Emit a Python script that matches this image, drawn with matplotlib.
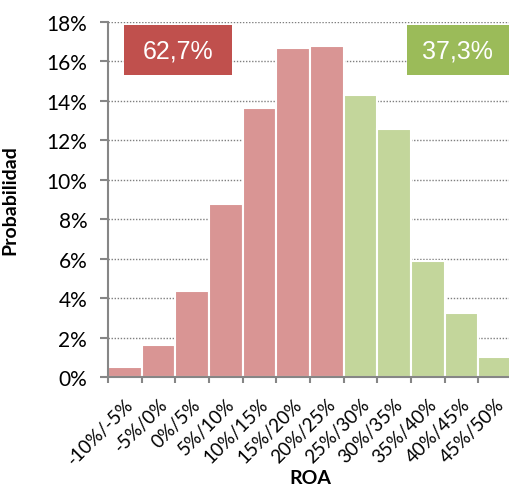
import matplotlib
matplotlib.use('Agg')
import matplotlib.pyplot as plt
from matplotlib.patches import Rectangle
from matplotlib.ticker import FuncFormatter
import numpy as np

bins = ['-10%/-5%', '-5%/0%', '0%/5%', '5%/10%', '10%/15%', '15%/20%',
        '20%/25%', '25%/30%', '30%/35%', '35%/40%', '40%/45%', '45%/50%']
prob = [0.5, 1.62, 4.38, 8.77, 13.66, 16.68, 16.78, 14.28, 12.58, 5.9, 3.23, 1.0]
n_red = 7
share_red = '62,7%'
share_green = '37,3%'

plt.rcParams['font.family'] = ['Lato', 'DejaVu Sans']

fig = plt.figure(figsize=(5.09, 4.89), dpi=100)
ax = fig.add_axes([108/509, 1 - 378/489, 404/509, 355/489])

x = np.arange(len(bins)) + 0.5
colors = ['#D99594'] * n_red + ['#C3D69B'] * (len(bins) - n_red)
ax.bar(x, prob, width=1.0, color=colors, edgecolor='white', linewidth=1.5, zorder=2)

ax.set_xlim(0, len(bins))
ax.set_ylim(0, 18)
ax.set_yticks(np.arange(0, 19, 2))
ax.yaxis.set_major_formatter(FuncFormatter(lambda v, p: '%d%%' % v))
ax.yaxis.grid(True, linestyle=(0, (1, 1.2)), color='#7f7f7f', linewidth=1.0, zorder=0)
ax.set_axisbelow(True)

ax.set_xticks(np.arange(0, len(bins) + 1))
ax.set_xticklabels([])
ax.set_xticks(x, minor=True)
ax.set_xticklabels(bins, minor=True, rotation=45, ha='right', rotation_mode='anchor',
                   fontsize=13.5)
ax.tick_params(axis='x', which='minor', length=0, pad=13)
ax.tick_params(axis='x', which='major', length=4, color='#868686', width=1.5, direction='out')
ax.tick_params(axis='y', length=6, color='#868686', width=1.5, labelsize=15, pad=9)

for s in ['top', 'right']:
    ax.spines[s].set_visible(False)
for s in ['left', 'bottom']:
    ax.spines[s].set_color('#868686')
    ax.spines[s].set_linewidth(1.5)

ax.set_ylabel('Probabilidad', fontsize=14, fontweight='bold')
ax.yaxis.set_label_coords(-0.223, 0.5)
ax.set_xlabel('ROA', fontsize=14, fontweight='bold')
ax.xaxis.set_label_coords(0.5, -0.26)

# share boxes
ax.add_patch(Rectangle((0.0396, 0.851), 0.267, 0.141, transform=ax.transAxes,
                       facecolor='#C0504D', edgecolor='none', zorder=3, clip_on=False))
ax.add_patch(Rectangle((0.740, 0.851), 0.26, 0.141, transform=ax.transAxes,
                       facecolor='#9BBB59', edgecolor='none', zorder=3, clip_on=False))
ax.text(0.173, 0.921, share_red, transform=ax.transAxes, fontsize=18, color='white',
        ha='center', va='center', family='Liberation Sans', zorder=4)
ax.text(0.865, 0.921, share_green, transform=ax.transAxes, fontsize=18, color='white',
        ha='center', va='center', family='Liberation Sans', zorder=4)

fig.savefig('out.png', dpi=100)
